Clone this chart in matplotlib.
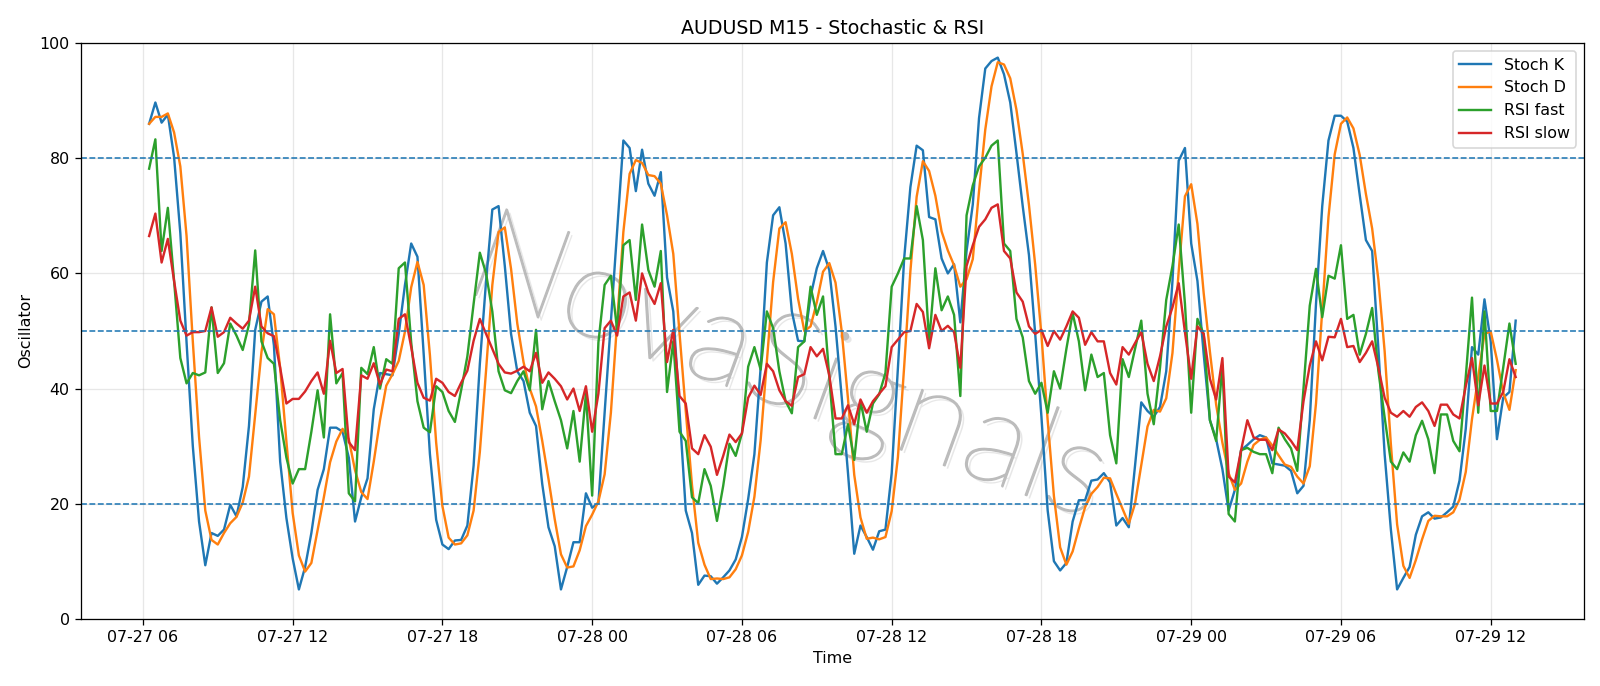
import pandas as pd
import matplotlib
matplotlib.use('Agg')
import matplotlib.pyplot as plt
import matplotlib.dates as mdates
import matplotlib.patheffects as pe

# 15-minute bars, 07-27 06:15 to 07-29 13:00
times = pd.date_range('2025-07-27 06:15', periods=220, freq='15min')

stoch_k = [
    86.0, 89.7, 86.2, 87.6, 80.2, 67.0, 48.0, 30.0, 16.9, 9.3,
    14.9, 14.4, 15.5, 19.8, 17.8, 22.9, 33.5, 50.2, 55.1, 56.0,
    47.5, 27.3, 17.5, 10.5, 5.1, 9.0, 14.9, 22.4, 26.0, 33.2,
    33.2, 32.5, 28.0, 16.9, 21.1, 24.4, 36.4, 42.7, 42.5, 42.3,
    49.5, 58.0, 65.2, 62.9, 46.0, 28.6, 17.2, 12.9, 12.1, 13.6,
    13.7, 16.2, 26.6, 44.3, 58.7, 71.1, 71.7, 61.3, 49.5, 43.0,
    41.3, 35.8, 33.5, 23.4, 15.9, 12.6, 5.1, 9.0, 13.3, 13.3,
    21.8, 19.3, 20.1, 35.8, 51.5, 67.1, 83.1, 81.8, 74.3, 81.5,
    75.6, 73.5, 77.6, 59.3, 53.4, 36.0, 18.8, 14.9, 5.9, 7.5,
    7.4, 6.1, 7.2, 8.4, 10.3, 14.2, 20.8, 28.6, 43.6, 61.9,
    70.1, 71.5, 65.2, 53.4, 48.3, 48.2, 56.0, 60.9, 63.9, 60.6,
    50.8, 38.4, 25.3, 11.3, 16.2, 14.2, 12.0, 15.2, 15.5, 25.3,
    43.6, 62.6, 75.0, 82.2, 81.4, 69.8, 69.4, 62.6, 60.0, 61.6,
    51.5, 63.9, 72.0, 87.0, 95.6, 96.9, 97.5, 94.6, 89.7, 80.9,
    71.7, 63.2, 49.5, 35.1, 18.8, 10.0, 8.4, 9.7, 16.9, 20.6,
    20.6, 24.0, 24.2, 25.3, 23.7, 16.2, 17.5, 15.9, 26.6, 37.6,
    36.1, 35.1, 36.8, 43.0, 58.7, 79.6, 81.8, 65.2, 58.7, 46.0,
    34.5, 31.2, 26.0, 18.8, 22.4, 29.3, 30.2, 31.2, 31.9, 31.5,
    27.0, 26.8, 26.6, 25.7, 21.8, 23.1, 34.5, 54.7, 71.7, 83.1,
    87.4, 87.4, 86.4, 81.8, 73.7, 65.8, 63.9, 46.9, 28.6, 15.5,
    5.1, 7.1, 9.0, 14.6, 17.8, 18.5, 17.4, 17.6, 18.5, 19.5,
    24.0, 33.0, 47.2, 45.9, 55.5, 48.2, 31.2, 38.4, 39.4, 51.8,
]

stoch_d = [
    86.0, 87.2, 87.2, 87.8, 84.5, 78.6, 66.5, 48.2, 31.6, 18.8,
    13.7, 12.9, 14.9, 16.6, 17.7, 20.2, 24.7, 35.5, 46.3, 53.8,
    52.9, 43.6, 30.8, 18.4, 11.0, 8.2, 9.7, 15.4, 21.1, 27.2,
    30.8, 33.0, 31.2, 25.8, 22.0, 20.8, 27.3, 34.5, 40.5, 42.5,
    44.8, 49.9, 57.6, 62.0, 58.0, 45.8, 30.6, 19.6, 14.1, 12.9,
    13.1, 14.5, 18.8, 29.0, 43.2, 58.0, 67.2, 68.0, 60.8, 51.3,
    44.6, 40.0, 36.9, 30.9, 24.3, 17.3, 11.2, 8.9, 9.1, 11.9,
    16.1, 18.1, 20.4, 25.1, 35.8, 51.5, 67.2, 77.3, 79.7, 79.2,
    77.1, 76.9, 75.6, 70.1, 63.4, 49.6, 36.1, 23.2, 13.2, 9.4,
    6.9, 7.0, 6.9, 7.2, 8.6, 11.0, 15.1, 21.2, 31.0, 44.7,
    58.5, 67.8, 68.9, 63.4, 55.6, 50.0, 50.8, 55.0, 60.3, 61.8,
    58.4, 49.9, 38.2, 25.0, 17.6, 13.9, 14.1, 13.8, 14.2, 18.7,
    28.1, 43.8, 60.4, 73.3, 79.5, 77.8, 73.5, 67.3, 64.0, 61.4,
    57.7, 59.0, 62.5, 74.3, 85.0, 92.5, 96.7, 96.3, 93.9, 88.4,
    80.8, 71.9, 61.5, 49.3, 34.5, 21.3, 12.4, 9.4, 11.7, 15.7,
    19.4, 21.7, 22.9, 24.5, 24.4, 21.7, 19.1, 16.5, 20.0, 26.7,
    33.4, 36.3, 36.0, 38.3, 46.2, 60.4, 73.4, 75.5, 68.6, 56.6,
    46.4, 37.2, 30.6, 25.3, 22.4, 23.5, 27.3, 30.2, 31.1, 31.5,
    30.1, 28.4, 26.8, 26.4, 24.7, 23.5, 26.5, 37.4, 53.6, 69.8,
    80.7, 86.0, 87.1, 85.2, 80.6, 73.8, 67.8, 58.9, 46.5, 30.3,
    16.4, 9.2, 7.1, 10.2, 13.8, 17.0, 17.9, 17.8, 17.8, 18.5,
    20.7, 25.5, 34.7, 42.0, 49.5, 49.9, 45.0, 39.3, 36.3, 43.2,
]

rsi_fast = [
    78.2, 83.3, 63.9, 71.4, 58.7, 45.3, 40.9, 42.7, 42.3, 42.8,
    54.1, 42.7, 44.4, 51.3, 49.2, 46.7, 51.1, 64.0, 48.2, 45.3,
    44.3, 34.5, 28.0, 23.5, 26.0, 26.0, 32.5, 39.7, 31.5, 52.9,
    40.9, 42.7, 21.8, 20.4, 43.6, 42.5, 47.2, 40.0, 45.1, 44.3,
    60.9, 61.9, 48.0, 37.8, 33.2, 32.4, 40.4, 39.4, 36.1, 34.2,
    39.7, 45.6, 54.7, 63.6, 60.0, 53.4, 43.0, 39.7, 39.2, 41.3,
    43.0, 39.7, 50.2, 36.4, 41.3, 37.8, 34.5, 29.6, 36.1, 27.3,
    39.1, 21.4, 48.0, 58.0, 59.6, 50.2, 64.9, 65.8, 55.4, 68.5,
    60.6, 57.7, 63.9, 39.4, 48.2, 32.5, 30.9, 21.1, 20.1, 26.0,
    23.1, 17.0, 23.1, 30.4, 28.3, 32.2, 43.8, 47.2, 43.3, 53.4,
    50.5, 43.0, 37.8, 35.7, 47.2, 48.2, 57.7, 52.8, 56.0, 42.0,
    28.6, 28.6, 33.8, 27.6, 37.8, 32.5, 37.4, 39.0, 42.7, 57.7,
    60.0, 62.6, 62.6, 71.7, 65.8, 48.2, 60.9, 53.6, 56.0, 52.8,
    38.7, 70.1, 75.3, 78.6, 80.1, 82.2, 83.1, 65.2, 63.9, 52.1,
    48.9, 41.3, 39.1, 41.0, 35.8, 43.0, 40.0, 46.9, 53.1, 48.2,
    39.7, 45.9, 42.0, 42.7, 31.9, 27.0, 45.1, 42.0, 46.9, 51.8,
    39.1, 33.8, 43.6, 55.4, 61.3, 68.5, 54.7, 35.8, 52.1, 49.5,
    34.5, 30.9, 44.0, 18.2, 16.9, 29.3, 29.7, 29.0, 28.6, 28.6,
    25.3, 33.2, 31.2, 29.6, 25.7, 40.0, 54.4, 60.8, 52.4, 59.6,
    59.1, 64.9, 52.1, 52.8, 45.9, 49.5, 54.0, 43.0, 35.0, 27.3,
    26.0, 28.9, 27.3, 31.9, 34.4, 31.2, 25.3, 35.5, 35.5, 30.9,
    29.1, 42.0, 55.8, 35.8, 53.4, 36.1, 36.1, 43.6, 51.3, 44.3,
]

rsi_slow = [
    66.5, 70.4, 61.9, 66.0, 58.7, 51.8, 49.2, 49.8, 49.8, 50.0,
    54.1, 49.0, 49.8, 52.3, 51.3, 50.4, 51.8, 57.7, 50.8, 49.6,
    49.1, 43.6, 37.4, 38.2, 38.2, 39.5, 41.3, 42.8, 39.1, 48.3,
    42.7, 43.4, 30.7, 29.3, 42.3, 41.7, 44.4, 40.7, 43.3, 43.0,
    52.1, 52.9, 47.2, 41.0, 38.4, 37.9, 41.7, 41.0, 39.4, 38.7,
    41.0, 43.1, 48.3, 52.1, 49.5, 46.9, 44.3, 42.8, 42.6, 43.1,
    43.8, 43.0, 46.2, 41.0, 42.8, 41.7, 40.4, 38.1, 40.0, 36.1,
    40.4, 32.5, 39.1, 50.5, 51.8, 49.2, 56.0, 56.7, 51.8, 60.0,
    56.7, 54.7, 58.3, 44.6, 50.2, 38.7, 37.4, 29.6, 28.6, 31.9,
    29.9, 25.0, 28.3, 32.0, 30.7, 32.2, 38.4, 40.5, 38.9, 44.3,
    43.0, 39.7, 37.8, 37.0, 42.0, 42.5, 47.2, 45.6, 46.9, 42.3,
    34.8, 34.8, 37.1, 33.8, 38.1, 35.8, 37.8, 39.1, 40.4, 47.2,
    48.5, 49.8, 50.0, 54.7, 53.3, 47.0, 52.8, 50.0, 50.9, 49.8,
    43.6, 61.3, 64.9, 68.1, 69.4, 71.4, 72.0, 63.9, 62.6, 56.7,
    55.1, 50.8, 49.5, 50.2, 47.4, 50.0, 48.5, 50.8, 53.4, 52.3,
    47.6, 49.8, 48.2, 48.2, 42.7, 40.7, 47.2, 45.9, 47.9, 49.8,
    44.3, 41.3, 45.6, 50.8, 54.1, 58.3, 49.8, 41.7, 50.8, 49.5,
    41.7, 38.1, 45.3, 24.7, 23.7, 29.3, 34.5, 31.5, 31.1, 31.1,
    29.3, 32.9, 32.2, 30.9, 29.3, 37.8, 44.0, 48.2, 44.9, 49.0,
    48.9, 52.1, 47.2, 47.4, 44.6, 46.2, 48.2, 43.6, 38.4, 35.8,
    35.1, 36.1, 35.1, 36.8, 37.6, 36.1, 33.5, 37.2, 37.2, 35.5,
    34.8, 40.4, 45.3, 37.1, 44.0, 37.4, 37.4, 39.4, 45.1, 42.0,
]

levels = [80, 50, 20]

fig, ax = plt.subplots(figsize=(14, 6.0025), dpi=1600 / 14)
fig.subplots_adjust(left=0.0505, right=0.99, top=0.937, bottom=0.098)

ax.plot(times, stoch_k, label='Stoch K', lw=1.5)
ax.plot(times, stoch_d, label='Stoch D', lw=1.5)
ax.plot(times, rsi_fast, label='RSI fast', lw=1.5)
ax.plot(times, rsi_slow, label='RSI slow', lw=1.5)

for lv in levels:
    ax.axhline(lv, color='#1f77b4', linestyle='--', linewidth=1)

ax.set_ylim(0, 100)
ax.set_title('AUDUSD M15 - Stochastic & RSI')
ax.set_xlabel('Time')
ax.set_ylabel('Oscillator')
ax.grid(True, alpha=0.3)
ax.legend(loc='upper right')

ax.xaxis.set_major_locator(mdates.HourLocator(byhour=[0, 6, 12, 18]))
ax.xaxis.set_major_formatter(mdates.DateFormatter('%m-%d %H'))

# watermark: thin grey letters with a soft shadow
ax.text(0.47, 0.43, 'NovaSignals', transform=ax.transAxes, fontsize=82,
        family='Lato', fontweight='light', color='#bcbcbc',
        rotation=-20, ha='center', va='center', zorder=1,
        path_effects=[pe.SimplePatchShadow(offset=(2, -2), shadow_rgbFace='#d8d8d8', alpha=0.6),
                      pe.Stroke(linewidth=1.0, foreground='#bcbcbc'),
                      pe.Normal()])

fig.savefig('out.png', dpi=1600 / 14)
